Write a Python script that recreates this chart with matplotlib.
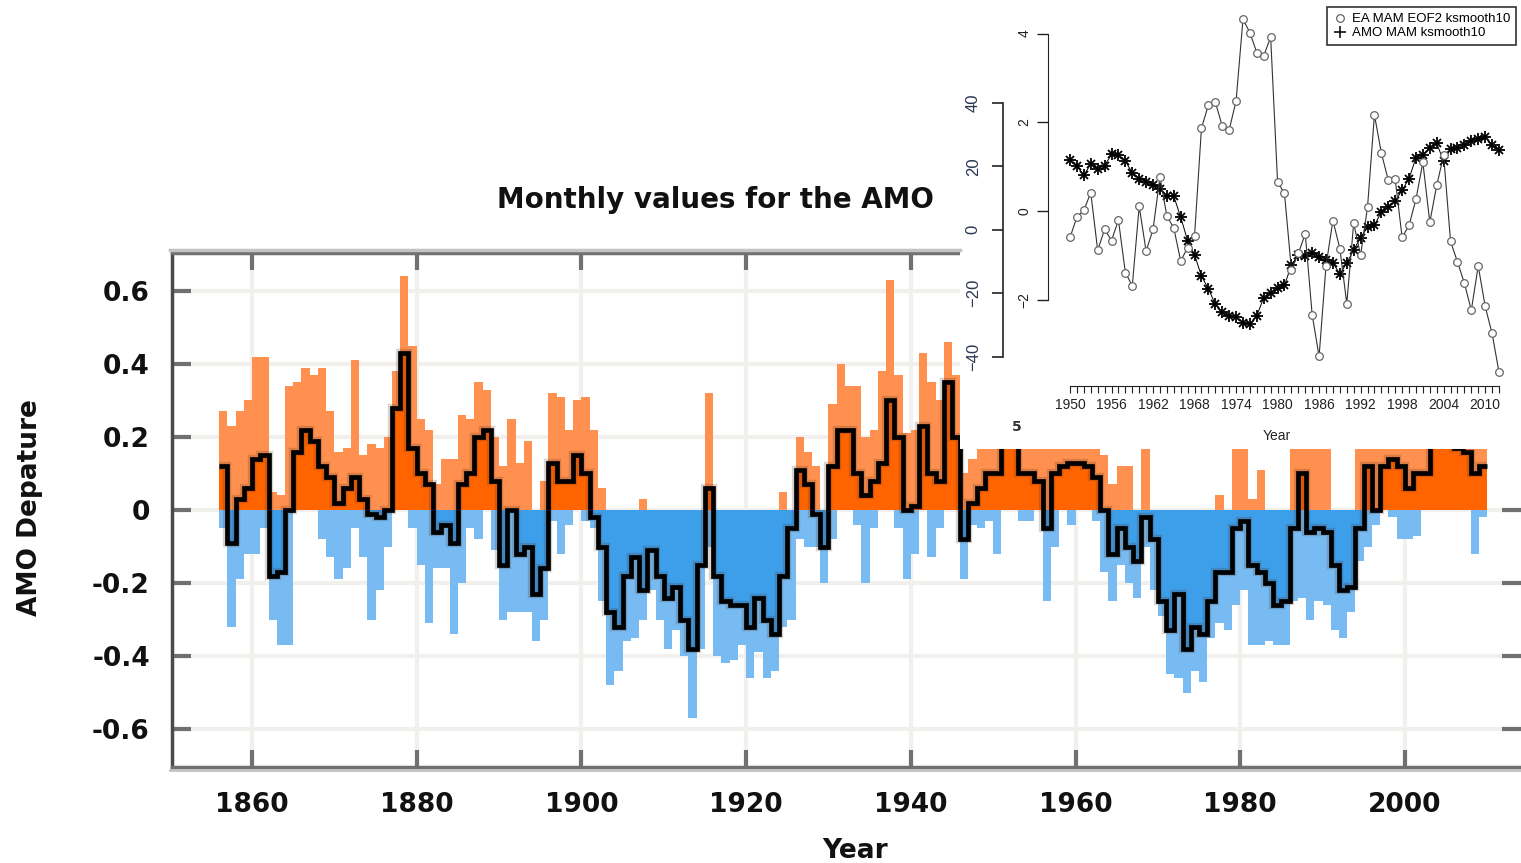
import matplotlib
matplotlib.use("Agg")
import matplotlib.pyplot as plt
import numpy as np
from matplotlib.lines import Line2D
from matplotlib.patches import Rectangle

W, H = 1521, 863

# ---------- main chart data (yearly) ----------
years = np.arange(1856, 2010)
amo_smooth = [
    0.12, -0.09, 0.03, 0.06, 0.14, 0.15, -0.18, -0.17, 0.00, 0.16,
    0.22, 0.19, 0.12, 0.09, 0.02, 0.06, 0.09, 0.03, -0.01, -0.02,
    0.00, 0.28, 0.43, 0.17, 0.10, 0.07, -0.06, -0.04, -0.09, 0.07,
    0.10, 0.20, 0.22, 0.08, -0.15, 0.00, -0.12, -0.10, -0.23, -0.16,
    0.13, 0.08, 0.08, 0.15, 0.10, -0.02, -0.10, -0.28, -0.32, -0.18,
    -0.13, -0.22, -0.11, -0.18, -0.24, -0.21, -0.30, -0.38, -0.15, 0.06,
    -0.18, -0.25, -0.26, -0.26, -0.32, -0.24, -0.30, -0.34, -0.18, -0.05,
    0.11, 0.07, -0.01, -0.10, 0.12, 0.22, 0.22, 0.10, 0.04, 0.08,
    0.13, 0.30, 0.20, 0.00, 0.01, 0.23, 0.10, 0.08, 0.35, 0.20,
    -0.08, 0.02, 0.06, 0.10, 0.10, 0.22, 0.20, 0.10, 0.10, 0.08,
    -0.05, 0.10, 0.12, 0.13, 0.13, 0.12, 0.09, 0.00, -0.12, -0.05,
    -0.10, -0.14, -0.02, -0.08, -0.25, -0.33, -0.23, -0.38, -0.32, -0.34,
    -0.25, -0.17, -0.17, -0.05, -0.03, -0.15, -0.17, -0.20, -0.26, -0.25,
    -0.05, 0.10, -0.06, -0.05, -0.06, -0.15, -0.22, -0.21, -0.05, 0.12,
    0.00, 0.12, 0.14, 0.12, 0.06, 0.10, 0.10, 0.20, 0.22, 0.20,
    0.17, 0.16, 0.10, 0.12]
amo_up = [
    0.27, 0.23, 0.27, 0.30, 0.42, 0.42, 0.05, 0.04, 0.34, 0.35,
    0.39, 0.37, 0.39, 0.27, 0.16, 0.17, 0.41, 0.15, 0.18, 0.17,
    0.20, 0.38, 0.64, 0.45, 0.25, 0.22, 0.07, 0.14, 0.14, 0.26,
    0.25, 0.35, 0.33, 0.20, 0.12, 0.25, 0.13, 0.19, 0.00, 0.08,
    0.32, 0.31, 0.22, 0.30, 0.31, 0.22, 0.06, 0.00, 0.00, 0.00,
    0.00, 0.03, 0.00, 0.00, 0.00, 0.00, 0.00, 0.00, 0.00, 0.32,
    0.00, 0.00, 0.00, 0.00, 0.00, 0.00, 0.00, 0.00, 0.05, 0.00,
    0.20, 0.16, 0.12, 0.00, 0.29, 0.40, 0.34, 0.34, 0.20, 0.22,
    0.38, 0.63, 0.37, 0.21, 0.22, 0.43, 0.35, 0.30, 0.46, 0.37,
    0.10, 0.14, 0.17, 0.17, 0.25, 0.30, 0.30, 0.25, 0.25, 0.25,
    0.20, 0.25, 0.25, 0.25, 0.30, 0.25, 0.25, 0.15, 0.07, 0.12,
    0.12, 0.00, 0.17, 0.00, 0.00, 0.00, 0.00, 0.00, 0.00, 0.00,
    0.00, 0.04, 0.00, 0.17, 0.17, 0.03, 0.11, 0.00, 0.00, 0.00,
    0.17, 0.20, 0.17, 0.17, 0.17, 0.00, 0.00, 0.00, 0.17, 0.20,
    0.20, 0.25, 0.25, 0.25, 0.25, 0.25, 0.25, 0.30, 0.30, 0.30,
    0.30, 0.30, 0.25, 0.25]
amo_dn = [
    -0.05, -0.32, -0.19, -0.12, -0.12, -0.05, -0.30, -0.37, -0.37, 0.00,
    0.00, 0.00, -0.08, -0.13, -0.19, -0.16, -0.05, -0.13, -0.30, -0.22,
    -0.10, 0.00, 0.00, -0.05, -0.15, -0.31, -0.16, -0.16, -0.34, -0.20,
    -0.05, -0.08, 0.00, -0.11, -0.30, -0.28, -0.28, -0.28, -0.36, -0.30,
    -0.03, -0.12, -0.04, 0.00, -0.03, -0.05, -0.25, -0.48, -0.44, -0.36,
    -0.35, -0.30, -0.22, -0.30, -0.38, -0.33, -0.40, -0.57, -0.38, -0.10,
    -0.40, -0.42, -0.41, -0.37, -0.46, -0.39, -0.46, -0.44, -0.32, -0.30,
    -0.08, -0.10, -0.10, -0.20, -0.08, 0.00, 0.00, -0.04, -0.20, -0.05,
    0.00, 0.00, -0.05, -0.19, -0.12, 0.00, -0.13, -0.05, 0.00, 0.00,
    -0.19, -0.04, -0.05, -0.03, -0.12, 0.00, 0.00, -0.03, -0.03, 0.00,
    -0.25, -0.10, 0.00, -0.04, 0.00, 0.00, -0.03, -0.17, -0.25, -0.15,
    -0.20, -0.24, -0.10, -0.22, -0.29, -0.45, -0.46, -0.50, -0.44, -0.47,
    -0.35, -0.31, -0.33, -0.26, -0.22, -0.37, -0.37, -0.36, -0.37, -0.37,
    -0.25, -0.24, -0.30, -0.25, -0.26, -0.33, -0.35, -0.28, -0.14, -0.10,
    -0.04, 0.00, -0.02, -0.08, -0.08, -0.07, 0.00, 0.00, 0.00, 0.00,
    0.00, 0.00, -0.12, -0.02]
main_xticks = [1860, 1880, 1900, 1920, 1940, 1960, 1980, 2000]
main_yticks = [-0.6, -0.4, -0.2, 0, 0.2, 0.4, 0.6]
main_yticklabels = ["-0.6", "-0.4", "-0.2", "0", "0.2", "0.4", "0.6"]

# ---------- inset data ----------
inset_years = np.arange(1950, 2013)
ea_eof2 = [
    -0.59, -0.13, 0.02, 0.42, -0.88, -0.41, -0.66, -0.20, -1.38, -1.68,
    0.11, -0.90, -0.41, 0.77, -0.11, -0.38, -1.12, -0.82, -0.55, 1.87,
    2.39, 2.46, 1.92, 1.83, 2.48, 4.32, 4.02, 3.57, 3.50, 3.92,
    0.66, 0.40, -1.32, -0.95, -0.51, -2.33, -3.27, -1.23, -0.21, -0.84,
    -2.08, -0.27, -0.99, 0.09, 2.17, 1.31, 0.70, 0.72, -0.59, -0.32,
    0.27, 1.10, -0.25, 0.58, 1.26, -0.68, -1.14, -1.62, -2.23, -1.23,
    -2.14, -2.75, -3.62]
amo_mam = [
    22.0, 20.1, 17.2, 20.8, 19.2, 20.3, 23.8, 23.5, 21.7, 18.0,
    16.2, 15.1, 14.2, 12.9, 10.6, 10.6, 4.0, -3.4, -7.9, -14.6,
    -18.6, -23.5, -26.0, -27.2, -27.5, -29.3, -29.8, -27.1, -21.4, -20.0,
    -18.2, -17.5, -11.1, -7.9, -8.2, -7.2, -8.7, -9.6, -10.5, -13.9,
    -10.5, -6.3, -2.5, 0.9, 1.5, 5.6, 7.1, 9.1, 12.5, 16.1,
    22.8, 23.7, 25.9, 27.3, 21.7, 25.4, 25.8, 26.8, 28.1, 28.6,
    29.4, 26.8, 25.2]


def fx(x):
    return x / W


def fy(y):
    return 1 - y / H


fig = plt.figure(figsize=(W / 100, H / 100), dpi=100)

# ================= main chart =================
ax = fig.add_axes([fx(172), fy(767), 1 - fx(172), (767 - 253) / H])
ax.set_xlim(1850.28, 2014.1)
ax.set_ylim(-0.704, 0.704)
ax.set_axisbelow(True)

orange, orange_lt = "#ff6400", "#ff904f"
blue, blue_lt = "#3d9eea", "#78bbf2"

s = np.array(amo_smooth)
edges = np.append(years, years[-1] + 1)
ax.bar(years, amo_up, width=1, align="edge", color=orange_lt, lw=0, zorder=1)
ax.bar(years, amo_dn, width=1, align="edge", color=blue_lt, lw=0, zorder=1)
ax.stairs(np.where(s > 0, s, 0), edges, baseline=0, fill=True, color=orange, zorder=2)
ax.stairs(np.where(s < 0, s, 0), edges, baseline=0, fill=True, color=blue, zorder=2)
ax.stairs(s, edges, baseline=None, color="#4a2a1a", lw=6, alpha=0.2, zorder=3)
ax.stairs(s, edges, baseline=None, color="black", lw=3.4, zorder=4)

ax.set_xticks(main_xticks)
ax.set_yticks(main_yticks)
ax.set_yticklabels(main_yticklabels)
ax.grid(True, color="#f2f0ed", lw=3)
ax.tick_params(axis="x", direction="in", length=12, width=3, color="#707070",
               top=True, bottom=True, pad=18, labelsize=19, labelcolor="#111")
ax.tick_params(axis="y", direction="in", length=14, width=3, color="#707070",
               left=True, right=True, pad=16, labelsize=19, labelcolor="#111")
for lab in ax.get_xticklabels() + ax.get_yticklabels():
    lab.set_fontweight("bold")
ax.spines["right"].set_visible(False)
ax.spines["left"].set_color("#4a4a4a")
ax.spines["left"].set_linewidth(2.5)
for side in ["top", "bottom"]:
    ax.spines[side].set_color("#707070")
    ax.spines[side].set_linewidth(2.5)

fig.add_artist(Line2D([fx(170), fx(960)], [fy(250), fy(250)], color="#c3c3c3", lw=2.5))
fig.add_artist(Line2D([fx(170), 1], [fy(770), fy(770)], color="#c3c3c3", lw=2.0))

fig.text(fx(715), fy(200), "Monthly values for the AMO", ha="center", va="center",
         fontsize=20, fontweight="bold", color="#111")
fig.text(fx(30), fy(508), "AMO Depature", rotation=90, ha="center", va="center",
         fontsize=19, fontweight="bold", color="#111")
fig.text(fx(855), fy(851), "Year", ha="center", va="center",
         fontsize=19, fontweight="bold", color="#111")
fig.text(fx(1017), fy(427), "5", ha="center", va="center", fontsize=10,
         fontweight="bold", color="#333")

# ================= inset =================
fig.add_artist(Rectangle((fx(960), fy(449)), 1 - fx(960), 449 / H,
                         transform=fig.transFigure, facecolor="white",
                         edgecolor="none", zorder=1))

inset_font = "Liberation Sans"
rect = [fx(1048), fy(380), (1505 - 1048) / W, (380 - 10) / H]
ax2 = fig.add_axes(rect, zorder=3)
ax2.patch.set_alpha(0)
ax2.set_xlim(1946.82, 2012.87)
ax2.set_ylim(-3.80, 4.53)
ax2.plot(inset_years, ea_eof2, color="#333", lw=0.8, marker="o", ms=5.5,
         mfc="white", mec="#666", mew=0.9, zorder=3)
for side in ["top", "right"]:
    ax2.spines[side].set_visible(False)
ax2.spines["left"].set_bounds(-2, 4)
ax2.spines["bottom"].set_bounds(1950, 2012)
ax2.spines["bottom"].set_position(("outward", 4.3))
ax2.spines["left"].set_color("#222")
ax2.spines["bottom"].set_color("#222")
ax2.set_xticks(np.arange(1950, 2011, 6))
ax2.set_xticks(inset_years, minor=True)
ax2.set_yticks([-2, 0, 2, 4])
ax2.tick_params(axis="x", which="both", direction="out", length=5, width=0.8,
                color="#222", pad=4, labelsize=10)
ax2.tick_params(axis="y", direction="out", length=8, width=1, color="#222",
                pad=4, labelsize=10)
for lab in ax2.get_yticklabels():
    lab.set_rotation(90)
    lab.set_va("center")
for lab in ax2.get_xticklabels() + ax2.get_yticklabels():
    lab.set_fontfamily(inset_font)
    lab.set_color("#222")
ax2.set_xlabel("Year", fontsize=10, fontfamily=inset_font, color="#222", labelpad=12)

ax3 = fig.add_axes(rect, zorder=2)
ax3.patch.set_alpha(0)
ax3.set_xlim(1946.82, 2012.87)
ax3.set_ylim(-47.4, 69.4)
ax3.plot(inset_years, amo_mam, color="black", lw=0.7, zorder=2)
ax3.plot(inset_years, amo_mam, ls="none", marker="+", ms=8, mew=1.3, color="black")
ax3.plot(inset_years, amo_mam, ls="none", marker="x", ms=6, mew=1.3, color="black")
for side in ["top", "right", "bottom"]:
    ax3.spines[side].set_visible(False)
ax3.xaxis.set_visible(False)
ax3.spines["left"].set_position(("outward", 32.4))
ax3.spines["left"].set_bounds(-40, 40)
ax3.spines["left"].set_color("#222")
ax3.spines["left"].set_linewidth(1.2)
ax3.set_yticks([-40, -20, 0, 20, 40])
ax3.tick_params(axis="y", direction="out", length=8, width=1.2, color="#222",
                pad=8, labelsize=12)
for lab in ax3.get_yticklabels():
    lab.set_rotation(90)
    lab.set_va("center")
    lab.set_fontfamily(inset_font)
    lab.set_color("#2a3550")

handles = [
    Line2D([], [], ls="none", marker="o", ms=5.5, mfc="none", mec="#666", mew=0.9),
    Line2D([], [], ls="none", marker="+", ms=8, mew=1.1, color="black"),
]
leg = fig.legend(handles, ["EA MAM EOF2 ksmooth10", "AMO MAM ksmooth10"],
                 loc="upper right", bbox_to_anchor=(fx(1516), fy(7)),
                 bbox_transform=fig.transFigure, fancybox=False, framealpha=1,
                 edgecolor="#333", handlelength=1.0, borderaxespad=0,
                 handletextpad=0.4, labelspacing=0.15, borderpad=0.45,
                 prop={"family": inset_font, "size": 9.5})
leg.get_frame().set_linewidth(1.2)
leg.set_zorder(5)

fig.savefig("out.png", dpi=100)
